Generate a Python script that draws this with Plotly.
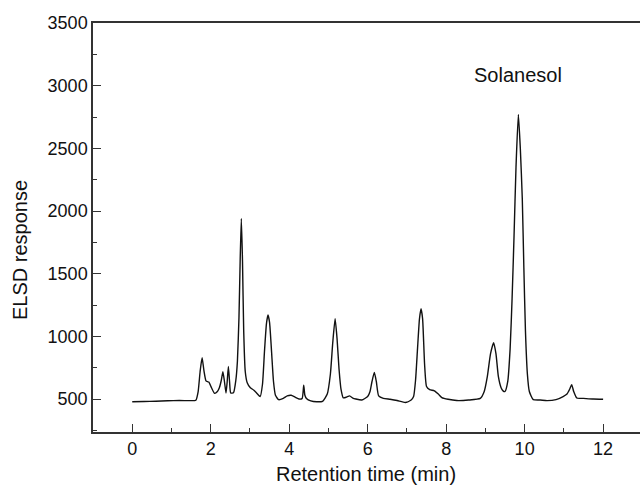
import plotly.graph_objects as go

# Cromatograma ELSD
tempo_min = [
    0.00, 0.30, 0.60, 0.90, 1.20, 1.50, 1.62, 1.68, 1.73, 1.78,
    1.83, 1.88, 1.95, 2.02, 2.10, 2.17, 2.22, 2.27, 2.31, 2.35,
    2.39, 2.42, 2.45, 2.48, 2.51, 2.58, 2.64, 2.68, 2.72, 2.75,
    2.78, 2.81, 2.84, 2.88, 2.93, 3.01, 3.10, 3.18, 3.26, 3.32,
    3.37, 3.42, 3.46, 3.50, 3.55, 3.60, 3.65, 3.73, 3.85, 3.95,
    4.05, 4.15, 4.25, 4.33, 4.37, 4.40, 4.44, 4.55, 4.70, 4.85,
    4.97, 5.05, 5.11, 5.17, 5.22, 5.27, 5.32, 5.38, 5.46, 5.54,
    5.62, 5.70, 5.85, 6.00, 6.06, 6.11, 6.17, 6.22, 6.28, 6.40,
    6.57, 6.75, 6.96, 7.10, 7.17, 7.22, 7.27, 7.32, 7.36, 7.40,
    7.45, 7.50, 7.58, 7.70, 7.80, 7.89, 8.05, 8.27, 8.57, 8.87,
    8.97, 9.05, 9.13, 9.21, 9.27, 9.33, 9.40, 9.45, 9.50, 9.57,
    9.63, 9.68, 9.73, 9.78, 9.84, 9.89, 9.94, 9.98, 10.02, 10.07,
    10.12, 10.22, 10.40, 10.57, 10.80, 10.98, 11.08, 11.15, 11.20, 11.25,
    11.33, 11.50, 11.75, 12.00,
]
resposta_elsd = [
    478, 480, 482, 486, 488, 487, 490, 560, 720, 830,
    720, 645, 635, 590, 545, 560, 590, 650, 718, 640,
    548, 640, 760, 640, 548, 550, 650, 800, 1150, 1600,
    1940, 1600, 1050, 720, 630, 590, 570, 545, 520, 620,
    880, 1100, 1170, 1110, 880, 640, 530, 495, 505, 525,
    530, 515, 500, 505, 610, 530, 505, 485, 478, 482,
    540, 700, 950, 1140, 980, 740, 580, 510, 515, 525,
    508, 500, 492, 520, 560, 640, 712, 640, 525, 505,
    498, 488, 472, 490, 520, 650, 900, 1140, 1220, 1140,
    780, 600, 575, 566, 540, 512, 498, 488, 492, 505,
    560, 680, 860, 950, 860, 680, 590, 565, 560, 640,
    900, 1300, 1800, 2350, 2770, 2500, 2100, 1550, 1050, 700,
    560, 495, 492, 487, 495, 520, 540, 580, 615, 560,
    508, 505, 500, 498,
]

x_ticks = [0, 2, 4, 6, 8, 10, 12]
y_ticks = [500, 1000, 1500, 2000, 2500, 3000, 3500]

fonte = 'Liberation Sans, Arial, sans-serif'
cor_eixo = '#333333'
cor_texto = '#111111'

fig = go.Figure()
fig.add_trace(go.Scatter(x=tempo_min, y=resposta_elsd, mode='lines',
                         line=dict(color='#111111', width=1.4, shape='spline', smoothing=0.5),
                         showlegend=False, hoverinfo='skip'))

fig.add_annotation(x=9.83, y=3085, text='Solanesol', showarrow=False,
                   font=dict(family=fonte, size=20, color=cor_texto))

# títulos dos eixos como anotações (posição controlada)
fig.add_annotation(xref='paper', yref='paper', x=0.499, y=-0.103,
                   text='Retention time (min)', showarrow=False,
                   xanchor='center', yanchor='middle',
                   font=dict(family=fonte, size=20, color=cor_texto))
fig.add_annotation(xref='paper', yref='paper', x=-0.1335, y=0.445,
                   text='ELSD response', showarrow=False, textangle=-90,
                   xanchor='center', yanchor='middle',
                   font=dict(family=fonte, size=20, color=cor_texto))

fig.update_xaxes(
    range=[-1, 12.94], tickvals=x_ticks, ticks='inside', ticklen=8,
    tickwidth=1.3, tickcolor=cor_eixo, showline=True, linecolor=cor_eixo,
    linewidth=1.5, mirror=True, showgrid=False, zeroline=False, automargin=False,
    minor=dict(dtick=1, tick0=1, ticks='inside', ticklen=4, tickcolor=cor_eixo),
    tickfont=dict(family=fonte, size=18, color=cor_texto),
)
fig.update_yaxes(
    range=[237, 3500], tickvals=y_ticks, ticks='inside', ticklen=8,
    tickwidth=1.3, tickcolor=cor_eixo, showline=True, linecolor=cor_eixo,
    linewidth=1.5, showgrid=False, zeroline=False, automargin=False,
    minor=dict(dtick=250, tick0=250, ticks='inside', ticklen=4, tickcolor=cor_eixo),
    tickfont=dict(family=fonte, size=18, color=cor_texto),
)
fig.update_layout(
    width=640, height=487,
    margin=dict(l=93, r=0, t=23, b=55),
    plot_bgcolor='white', paper_bgcolor='white',
)
# sem a margem padrão do body, a figura ocupa a janela inteira
fig.write_html('out.html', config={'displayModeBar': False},
               post_script="document.body.style.margin='0';")
